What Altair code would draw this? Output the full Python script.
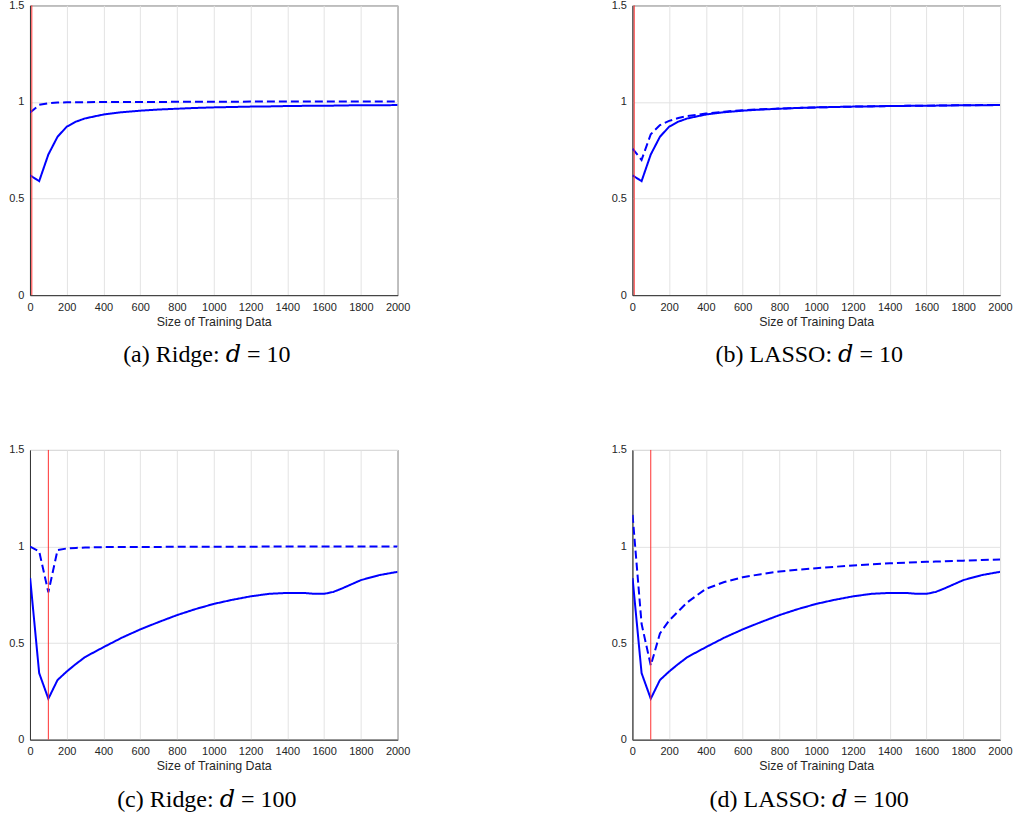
import altair as alt
import pandas as pd

# Size of training data (shared x samples)
n = [1, 50, 100, 150, 200, 250, 300, 400, 500, 600, 700, 800, 900, 1000,
     1100, 1200, 1300, 1400, 1500, 1550, 1600, 1650, 1700, 1800, 1900, 2000]

# d = 10 panels
solid_d10 = [0.620, 0.590, 0.728, 0.820, 0.872, 0.898, 0.915, 0.935, 0.947, 0.955,
             0.961, 0.965, 0.969, 0.972, 0.974, 0.976, 0.977, 0.979, 0.980, 0.980,
             0.981, 0.981, 0.982, 0.983, 0.983, 0.984]
ridge_dashed_d10 = [0.945, 0.985, 0.993, 0.997, 0.998, 0.999, 0.999, 1.000, 1.000, 1.000,
                    1.000, 1.001, 1.001, 1.001, 1.001, 1.002, 1.002, 1.002, 1.002, 1.002,
                    1.002, 1.003, 1.003, 1.003, 1.003, 1.003]
lasso_dashed_d10 = [0.758, 0.700, 0.833, 0.880, 0.902, 0.917, 0.927, 0.940, 0.950, 0.957,
                    0.962, 0.966, 0.969, 0.972, 0.974, 0.976, 0.978, 0.979, 0.980, 0.981,
                    0.981, 0.982, 0.982, 0.983, 0.984, 0.984]

# d = 100 panels
solid_d100 = [0.836, 0.345, 0.212, 0.309, 0.353, 0.392, 0.428, 0.479, 0.528, 0.571,
              0.609, 0.645, 0.676, 0.703, 0.724, 0.742, 0.755, 0.760, 0.759, 0.755,
              0.755, 0.765, 0.784, 0.826, 0.852, 0.869]
ridge_dashed_d100 = [1.000, 0.975, 0.763, 0.982, 0.990, 0.993, 0.995, 0.997, 0.998, 0.998,
                     0.998, 0.999, 0.999, 0.999, 0.999, 0.999, 1.000, 1.000, 1.000, 1.000,
                     1.000, 1.000, 1.000, 1.000, 1.000, 1.000]
lasso_dashed_d100 = [1.164, 0.600, 0.384, 0.550, 0.617, 0.665, 0.712, 0.781, 0.816, 0.841,
                     0.857, 0.871, 0.880, 0.888, 0.895, 0.902, 0.908, 0.913, 0.917, 0.919,
                     0.921, 0.922, 0.924, 0.927, 0.930, 0.933]

dims = [10, 10, 100, 100]
captions = ["(a) Ridge: 𝑑 = 10", "(b) LASSO: 𝑑 = 10",
            "(c) Ridge: 𝑑 = 100", "(d) LASSO: 𝑑 = 100"]

x_ticks = list(range(0, 2001, 200))
y_ticks = [0, 0.5, 1, 1.5]
AX_TITLE = "Size of Training Data"


def x_enc(field):
    return alt.X(field, scale=alt.Scale(domain=[0, 2000], nice=False),
                 axis=alt.Axis(values=x_ticks, format="d", title=AX_TITLE,
                               labelFlush=False, labelOverlap=False))


def panel(solid, dashed, d, caption):
    df = pd.DataFrame({
        "n": n + n,
        "v": solid + dashed,
        "s": ["solid"] * len(n) + ["dashed"] * len(n),
    })
    y = alt.Y("v:Q", scale=alt.Scale(domain=[0, 1.5], nice=False),
              axis=alt.Axis(values=y_ticks, format="~g", title=None,
                            labelFlush=False, labelOverlap=False))
    lines = alt.Chart(df).mark_line(color="#0000ff", strokeWidth=2, clip=True).encode(
        x=x_enc("n:Q"),
        y=y,
        strokeDash=alt.StrokeDash("s:N", scale=alt.Scale(domain=["solid", "dashed"],
                                                         range=[[1, 0], [8, 4]]),
                                  legend=None),
        detail="s:N",
    )
    rule = alt.Chart(pd.DataFrame({"d": [d]})).mark_rule(
        color="#ff3030", strokeWidth=1).encode(x=x_enc("d:Q"))
    return alt.layer(lines, rule).properties(
        width=368, height=290,
        title=alt.TitleParams(caption, orient="bottom", anchor="middle",
                              font="Liberation Serif, DejaVu Serif", fontSize=24,
                              fontWeight="normal", color="black", offset=16, dx=-7),
    )


pa = panel(solid_d10, ridge_dashed_d10, dims[0], captions[0])
pb = panel(solid_d10, lasso_dashed_d10, dims[1], captions[1])
pc = panel(solid_d100, ridge_dashed_d100, dims[2], captions[2])
pd_ = panel(solid_d100, lasso_dashed_d100, dims[3], captions[3])

chart = alt.vconcat(
    alt.hconcat(pa, pb, spacing=200),
    alt.hconcat(pc, pd_, spacing=200),
    spacing=75,
).properties(
    padding={"left": 8, "top": -2, "right": 5, "bottom": 5},
    background="white",
).configure_view(
    stroke="#333333", strokeWidth=1
).configure_axis(
    labelFont="Liberation Sans", labelFontSize=11, labelColor="#262626",
    titleFont="Liberation Sans", titleFontSize=12.4, titleColor="#262626",
    titleFontWeight="normal", titlePadding=3,
    gridColor="#e3e3e3", gridWidth=1,
    domainColor="#333333", domainWidth=1,
    ticks=False, labelPadding=6,
)

chart.save("out.html", embed_options={"renderer": "svg", "actions": False})
